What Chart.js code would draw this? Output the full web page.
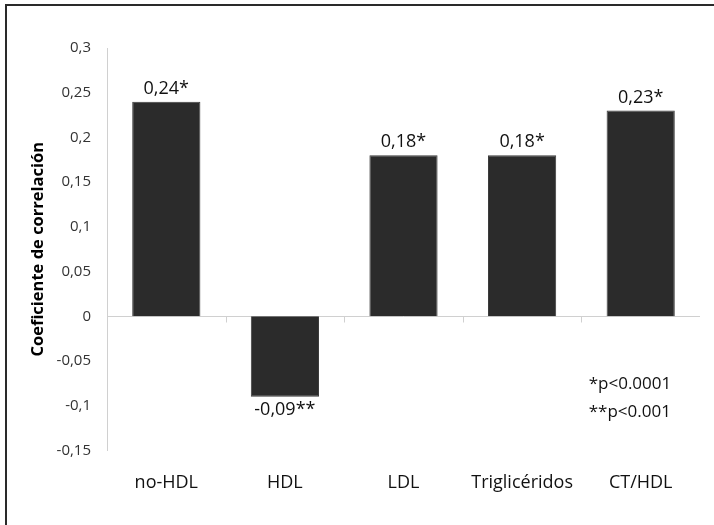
<!DOCTYPE html>
<html>
<head>
<meta charset="utf-8">
<script src="https://cdn.jsdelivr.net/npm/chart.js@4/dist/chart.umd.min.js"></script>
<style>
html,body{margin:0;padding:0;background:#fff;}
#wrap{position:relative;width:714px;height:525px;}
</style>
</head>
<body>
<div id="wrap"><canvas id="c" width="714" height="525"></canvas></div>
<script>
const categories = ['no-HDL', 'HDL', 'LDL', 'Triglicéridos', 'CT/HDL'];
const values = [0.24, -0.09, 0.18, 0.18, 0.23];
const significance = ['*', '**', '*', '*', '*'];
const notes = ['*p<0.0001', '**p<0.001'];
const yTitle = 'Coeficiente de correlación';
const yMin = -0.15, yMax = 0.3, yStep = 0.05;

const FONT = "'Open Sans', sans-serif";
const fmt = v => v.toFixed(2).replace('.', ',');
const tickFmt = v => String(Number(v.toFixed(2))).replace('.', ',');

const decor = {
  id: 'decor',
  beforeDraw(chart) {
    const ctx = chart.ctx;
    ctx.save();
    ctx.fillStyle = '#fff';
    ctx.fillRect(0, 0, chart.width, chart.height);
    ctx.strokeStyle = '#2a2a2a';
    ctx.lineWidth = 2;
    ctx.beginPath();
    ctx.moveTo(6, chart.height);
    ctx.lineTo(6, 5);
    ctx.lineTo(chart.width, 5);
    ctx.stroke();
    ctx.restore();
  },
  beforeDatasetsDraw(chart) {
    const ctx = chart.ctx, x = chart.scales.x, y = chart.scales.y;
    const y0 = Math.round(y.getPixelForValue(0)) + 0.5;
    ctx.save();
    ctx.strokeStyle = '#d0d0d0';
    ctx.lineWidth = 1;
    ctx.beginPath();
    ctx.moveTo(x.left, y0);
    ctx.lineTo(x.right, y0);
    for (let i = 1; i < categories.length; i++) {
      const bx = Math.round((x.getPixelForValue(i - 1) + x.getPixelForValue(i)) / 2) + 0.5;
      ctx.moveTo(bx, y0);
      ctx.lineTo(bx, y0 + 6);
    }
    ctx.stroke();
    ctx.restore();
  },
  afterDatasetsDraw(chart) {
    const ctx = chart.ctx, x = chart.scales.x, y = chart.scales.y;
    const meta = chart.getDatasetMeta(0);
    ctx.save();
    ctx.fillStyle = '#111';
    ctx.font = "18px " + FONT;
    ctx.textAlign = 'center';
    meta.data.forEach((bar, i) => {
      const v = values[i];
      const txt = fmt(v) + significance[i];
      if (v >= 0) {
        ctx.textBaseline = 'bottom';
        ctx.fillText(txt, bar.x, bar.y - 4);
      } else {
        ctx.textBaseline = 'top';
        ctx.fillText(txt, bar.x, bar.y + 4);
      }
    });
    ctx.font = "17px " + FONT;
    ctx.textAlign = 'left';
    ctx.textBaseline = 'middle';
    const nx = x.getPixelForValue(4) - 52;
    const ny = y.getPixelForValue(-0.1);
    ctx.fillText(notes[0], nx, ny - 22);
    ctx.fillText(notes[1], nx, ny + 6);
    ctx.restore();
  }
};

new Chart(document.getElementById('c'), {
  type: 'bar',
  data: {
    labels: categories,
    datasets: [{
      data: values,
      backgroundColor: '#2b2b2b',
      borderColor: '#3c3c3c',
      borderWidth: 1,
      categoryPercentage: 1,
      barPercentage: 0.575
    }]
  },
  options: {
    responsive: false,
    animation: false,
    devicePixelRatio: 1,
    layout: { padding: { top: 48, right: 14, bottom: 9, left: 0 } },
    plugins: { legend: { display: false }, tooltip: { enabled: false } },
    scales: {
      x: {
        grid: { display: false, drawTicks: false },
        border: { display: false },
        ticks: { color: '#111', font: { family: FONT, size: 18 }, padding: 22, maxRotation: 0 }
      },
      y: {
        min: yMin, max: yMax,
        afterFit(s) { s.width = 107; },
        grid: { display: false, drawTicks: false },
        border: { display: true, color: '#d0d0d0', width: 1 },
        ticks: { stepSize: yStep, color: '#333', font: { family: FONT, size: 15 }, padding: 16, callback: v => tickFmt(v) },
        title: { display: true, text: yTitle, color: '#000', font: { family: FONT, size: 16.5, weight: 'bold' }, padding: { top: 28, bottom: 0 } }
      }
    }
  },
  plugins: [decor]
});
</script>
</body>
</html>
